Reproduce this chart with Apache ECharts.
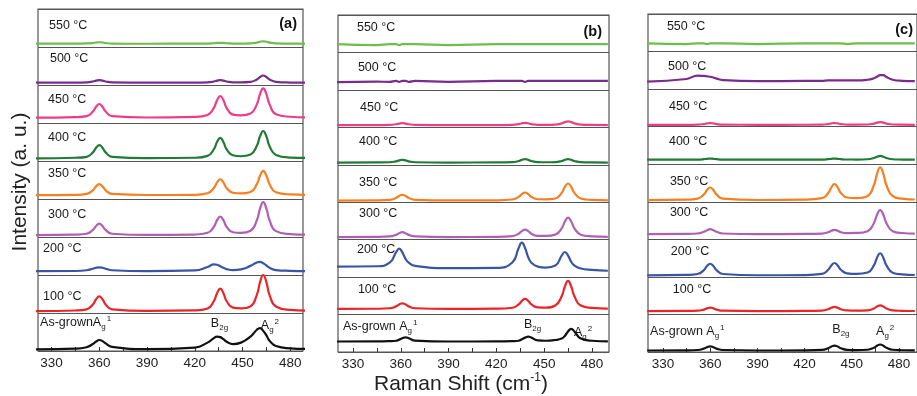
<!DOCTYPE html>
<html>
<head>
<meta charset="utf-8">
<script src="https://cdn.jsdelivr.net/npm/echarts@6/dist/echarts.min.js"></script>
<style>html,body{margin:0;padding:0;background:#fff}#c{width:917px;height:396px}</style>
</head>
<body>
<div id="c"></div>
<script>
// ---------- data ----------
const temps = ['As-grown', '100 °C', '200 °C', '300 °C', '350 °C', '400 °C', '450 °C', '500 °C', '550 °C'];
const tickLabels = [330, 360, 390, 420, 450, 480];
const tickMarks = [330, 345, 360, 375, 390, 405, 420, 435, 450, 465, 480];
const panelNames = ['(a)', '(b)', '(c)'];

// Raman shift sample positions (cm-1) for each panel
const xsA = [320,345,352,356,358,360,362,364,368,390,420,428,432,434,436,438,440,444,449,455,459,461,463,465,467,471,480,490];
const xsB = [320,345,353,357,359,361,363,365,369,390,420,430,434,436,438,440,442,446,451,457,461,463,465,467,469,473,480,490];
const xsC = [320,345,352,356,358,360,362,364,368,390,420,431,435,437,439,441,443,447,453,460,464,466,468,470,472,476,482,490];

// intensities (fraction of one strip) — panel (a)
const aAs  = [.045,.06,.10,.185,.25,.29,.26,.20,.11,.05,.09,.22,.34,.38,.365,.31,.245,.18,.22,.38,.56,.60,.53,.41,.27,.13,.07,.055];
const a100 = [.05,.066,.097,.226,.362,.44,.362,.226,.097,.055,.068,.12,.316,.522,.64,.522,.316,.14,.12,.175,.478,.81,1.0,.81,.47,.17,.08,.063];
const a200 = [.10,.105,.125,.165,.19,.20,.19,.165,.125,.10,.12,.21,.28,.27,.23,.19,.155,.13,.15,.24,.33,.345,.31,.25,.19,.13,.11,.10];
const a300 = [.05,.062,.086,.185,.29,.35,.29,.185,.086,.055,.065,.11,.27,.442,.54,.442,.27,.126,.11,.164,.44,.746,.92,.746,.44,.154,.076,.061];
const a350 = [.10,.11,.135,.23,.332,.39,.332,.23,.135,.105,.11,.15,.29,.436,.52,.436,.29,.165,.147,.185,.39,.61,.74,.61,.39,.177,.12,.108];
const a400 = [.07,.085,.11,.228,.35,.42,.35,.228,.11,.075,.085,.135,.31,.50,.61,.50,.31,.15,.125,.17,.40,.65,.79,.65,.39,.16,.09,.08];
const a450 = [.14,.155,.18,.302,.428,.50,.428,.302,.18,.145,.16,.21,.40,.60,.71,.60,.40,.22,.20,.25,.49,.76,.91,.76,.49,.23,.165,.15];
const a500 = [.06,.06,.07,.092,.116,.13,.116,.092,.068,.06,.06,.068,.092,.116,.13,.116,.092,.07,.07,.083,.146,.212,.25,.212,.146,.083,.065,.06];
const a550 = [.09,.09,.095,.106,.118,.125,.118,.106,.09,.085,.09,.09,.099,.106,.11,.106,.099,.09,.088,.095,.117,.138,.15,.138,.117,.095,.09,.09];

// panel (b)
const bAs  = [.28,.283,.29,.30,.33,.368,.39,.368,.305,.28,.283,.29,.30,.34,.384,.41,.384,.31,.30,.32,.36,.43,.55,.62,.55,.36,.30,.285];
const b100 = [.15,.155,.168,.218,.27,.30,.27,.218,.168,.15,.157,.182,.27,.366,.42,.366,.27,.19,.185,.243,.488,.75,.90,.75,.488,.24,.18,.16];
const b200 = [.28,.29,.385,.66,.76,.66,.485,.385,.30,.24,.245,.39,.778,.92,.778,.53,.385,.28,.256,.31,.574,.67,.574,.406,.31,.23,.194,.17];
const b300 = [.07,.075,.086,.128,.174,.20,.174,.128,.086,.07,.075,.094,.16,.23,.27,.23,.16,.10,.10,.135,.304,.486,.59,.486,.304,.133,.09,.077];
const b350 = [.045,.05,.064,.115,.169,.20,.169,.115,.064,.047,.05,.072,.142,.217,.26,.217,.142,.08,.078,.10,.25,.41,.50,.41,.25,.10,.062,.05];
const b400 = [.06,.063,.068,.092,.116,.13,.116,.092,.068,.06,.063,.071,.10,.132,.15,.132,.10,.073,.068,.073,.10,.132,.15,.132,.10,.071,.063,.06];
const b450 = [.06,.06,.066,.083,.10,.11,.10,.083,.066,.06,.06,.067,.087,.108,.12,.108,.087,.067,.065,.072,.105,.14,.16,.14,.105,.072,.063,.06];
const b500 = [.205,.22,.215,.24,.215,.24,.24,.215,.24,.215,.24,.24,.24,.24,.215,.24,.24,.24,.24,.24,.24,.24,.24,.24,.24,.24,.24,.24];
const b550 = [.22,.195,.22,.22,.195,.22,.22,.22,.22,.195,.22,.22,.22,.22,.22,.22,.22,.22,.22,.22,.22,.22,.22,.22,.22,.22,.22,.22];

// panel (c)
const cAs  = [.04,.044,.053,.09,.128,.15,.128,.09,.053,.04,.043,.056,.10,.144,.17,.144,.10,.059,.052,.06,.112,.168,.20,.168,.112,.06,.047,.043];
const c100 = [.09,.093,.10,.13,.162,.18,.162,.13,.10,.09,.093,.103,.14,.178,.20,.178,.14,.106,.101,.11,.158,.21,.24,.21,.158,.108,.097,.092];
const c200 = [.04,.052,.077,.18,.288,.35,.288,.18,.077,.043,.048,.08,.19,.304,.37,.304,.19,.092,.078,.115,.306,.512,.63,.512,.306,.111,.066,.05];
const c300 = [.14,.145,.156,.20,.244,.27,.244,.20,.156,.14,.143,.153,.19,.228,.25,.228,.19,.166,.17,.217,.43,.652,.78,.652,.43,.217,.168,.152];
const c350 = [.045,.058,.085,.196,.313,.38,.313,.196,.085,.048,.056,.096,.236,.385,.47,.385,.236,.113,.098,.155,.44,.745,.92,.745,.44,.15,.083,.06];
const c400 = [.12,.12,.124,.134,.144,.15,.144,.134,.124,.12,.121,.124,.134,.144,.15,.144,.134,.126,.125,.132,.165,.20,.22,.20,.165,.132,.124,.12];
const c450 = [.05,.05,.055,.07,.086,.095,.086,.07,.055,.05,.051,.055,.07,.086,.095,.086,.07,.056,.055,.058,.082,.106,.12,.106,.082,.058,.053,.05];
const c500 = [.20,.27,.36,.35,.34,.33,.31,.28,.24,.21,.22,.22,.23,.23,.23,.23,.23,.23,.23,.25,.29,.33,.37,.37,.32,.25,.22,.21];
const c550 = [.22,.20,.22,.22,.20,.22,.22,.22,.22,.20,.22,.22,.22,.22,.22,.22,.22,.20,.22,.22,.22,.22,.22,.22,.22,.22,.22,.22];

// ---------- layout / style ----------
const FONT = "'Liberation Sans', Arial, Helvetica, sans-serif";
const colors = ['#111111', '#e8262a', '#3a55a4', '#b060b4', '#f57f21', '#1f7b35', '#ec3e86', '#7a2c8c', '#6cbf4a'];
const panels = [
  { xs: xsA, strips: [aAs, a100, a200, a300, a350, a400, a450, a500, a550],
    grid: { left: 38, top: 9, width: 265, height: 342 }, min: 321.5, max: 488,
    labelPos: [[322.8, .74], [324.7, .42], [324.7, .70], [327.8, .60], [327.8, .66], [327.8, .63], [327.8, .63], [329, .69], [328.4, .57]],
    asText: 'As-grown', b2g: [430.1, .71], a2: [461.5, .66] },
  { xs: xsB, strips: [bAs, b100, b200, b300, b350, b400, b450, b500, b550],
    grid: { left: 338, top: 15, width: 271, height: 337 }, min: 320.6, max: 490.7,
    labelPos: [[323.7, .67], [333.1, .66], [332.5, .74], [333.8, .70], [333.8, .53], [333.8, .62], [334.4, .52], [333.1, .61], [332.5, .67]],
    asText: 'As-grown ', b2g: [437.3, .73], a2: [468.7, .51] },
  { xs: xsC, strips: [cAs, c100, c200, c300, c350, c400, c450, c500, c550],
    grid: { left: 648, top: 14, width: 270, height: 338 }, min: 320.5, max: 491.4,
    labelPos: [[321.8, .54], [336.3, .66], [335, .67], [334.4, .70], [334.4, .53], [333.8, .60], [333.8, .53], [333.2, .60], [332.5, .67]],
    asText: 'As-grown ', b2g: [437.6, .59], a2: [465.4, .54] }
];

const rich = {
  t: { fontSize: 12.5, fontFamily: FONT, color: '#1a1a1a', lineHeight: 16, verticalAlign: 'middle' },
  m: { fontSize: 12.5, fontFamily: FONT, color: '#1a1a1a', lineHeight: 16, verticalAlign: 'middle' },
  s: { fontSize: 8, fontFamily: FONT, color: '#1a1a1a', lineHeight: 9, verticalAlign: 'bottom' },
  p: { fontSize: 8, fontFamily: FONT, color: '#1a1a1a', lineHeight: 9, verticalAlign: 'top', padding: [0, 0, 0, 1] }
};

const grids = [], xAxes = [], yAxes = [], series = [];
panels.forEach((P, p) => {
  grids.push(Object.assign({ show: true, borderColor: '#555', borderWidth: 1.2, backgroundColor: 'transparent' }, P.grid));
  xAxes.push({
    type: 'value', gridIndex: p, min: P.min, max: P.max,
    axisLine: { show: false },
    splitLine: { show: false },
    axisTick: { show: true, inside: true, length: 4, customValues: tickMarks, lineStyle: { color: '#333', width: 1 } },
    axisLabel: { show: true, customValues: tickLabels, fontSize: 13.5, fontFamily: FONT, color: '#222', margin: 5 }
  });
  yAxes.push({
    type: 'value', gridIndex: p, min: 0, max: 9, interval: 1,
    axisLine: { show: false }, axisTick: { show: false }, axisLabel: { show: false },
    splitLine: { show: true, lineStyle: { color: '#555', width: 1.2 } }
  });
  P.strips.forEach((vals, i) => {
    const mp = [{
      coord: [P.labelPos[i][0], i + P.labelPos[i][1]],
      label: { formatter: i === 0 ? '{t|' + P.asText + '}{m|A}{s|g}{p|1}' : '{t|' + temps[i] + '}' }
    }];
    if (i === 0) {
      mp.push({ coord: [P.b2g[0], i + P.b2g[1]], label: { formatter: '{m|B}{s|2g}' } });
      mp.push({ coord: [P.a2[0], i + P.a2[1]], label: { formatter: '{m|A}{s|g}{p|2}' } });
    }
    series.push({
      type: 'line', xAxisIndex: p, yAxisIndex: p,
      data: P.xs.map((x, k) => [x, i + vals[k]]),
      smooth: 0.5, showSymbol: false, symbol: 'none',
      lineStyle: { color: colors[i], width: 2.2, join: 'round' },
      itemStyle: { color: colors[i] },
      clip: true,
      markPoint: {
        symbol: 'circle', symbolSize: 0, silent: true, animation: false,
        label: { show: true, position: 'right', distance: 0, color: '#1a1a1a', fontSize: 12.5, fontFamily: FONT, rich: rich },
        data: mp
      }
    });
  });
});

const chart = echarts.init(document.getElementById('c'), null, { renderer: 'canvas' });
chart.setOption({
  animation: false,
  backgroundColor: '#fff',
  grid: grids, xAxis: xAxes, yAxis: yAxes, series: series,
  graphic: [
    { type: 'text', x: 20, y: 182, rotation: Math.PI / 2,
      style: { text: 'Intensity (a. u.)', font: '21px ' + FONT, fill: '#222', textAlign: 'center', textVerticalAlign: 'middle' } },
    { type: 'text', x: 461, y: 384,
      style: { text: '{a|Raman Shift (cm}{s|-1}{a|)}', fill: '#222', textAlign: 'center', textVerticalAlign: 'middle',
        rich: { a: { fontSize: 21, fontFamily: FONT, fill: '#222', lineHeight: 24, verticalAlign: 'middle' },
                s: { fontSize: 12, fontFamily: FONT, fill: '#222', lineHeight: 12, verticalAlign: 'top' } } } },
    { type: 'text', x: 297, y: 24, style: { text: panelNames[0], font: 'bold 14.5px ' + FONT, fill: '#111', textAlign: 'right', textVerticalAlign: 'middle' } },
    { type: 'text', x: 602, y: 32, style: { text: panelNames[1], font: 'bold 14.5px ' + FONT, fill: '#111', textAlign: 'right', textVerticalAlign: 'middle' } },
    { type: 'text', x: 913, y: 30, style: { text: panelNames[2], font: 'bold 14.5px ' + FONT, fill: '#111', textAlign: 'right', textVerticalAlign: 'middle' } }
  ]
});
</script>
</body>
</html>
